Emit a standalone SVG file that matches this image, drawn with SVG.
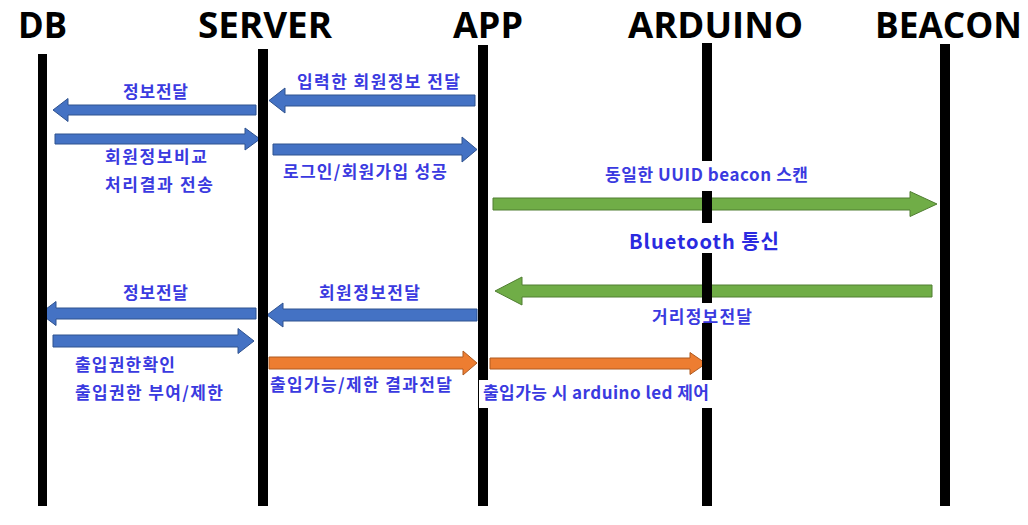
<svg xmlns="http://www.w3.org/2000/svg" width="1028" height="525" viewBox="0 0 1028 525">
<style>
.hdr{font-family:"Open Sans","Noto Sans",sans-serif;font-weight:700;font-size:36px;fill:#000;text-anchor:middle}
.life{fill:#000}
.lbl{font-family:"Noto Sans CJK KR","Noto Sans",sans-serif;font-weight:700;font-size:17px;fill:#3a3ae0}
.mid{text-anchor:middle}
.blue{fill:#4472c4;stroke:#2f528f;stroke-width:1}
.green{fill:#70ad47;stroke:#507e32;stroke-width:1}
.orange{fill:#ed7d31;stroke:#ae5a21;stroke-width:1}
.bg{fill:#fff}
</style>
<rect width="1028" height="525" fill="#fff"/>
<g id="connectors">
<polygon class="blue" points="53,110 68,98.5 68,105 256,105 256,115 68,115 68,121.5"/>
<polygon class="blue" points="260,139 245,128 245,134 55,134 55,144 245,144 245,150"/>
<polygon class="blue" points="269,100.5 285,88 285,95 475,95 475,106 285,106 285,113"/>
<polygon class="blue" points="477,149.5 462,137 462,144 273,144 273,155 462,155 462,162"/>
<polygon class="green" points="937,204 910,191.5 910,198 493,198 493,210 910,210 910,216.5"/>
<polygon class="green" points="495,291 522,277 522,285 932,285 932,297 522,297 522,305"/>
<polygon class="blue" points="40,313.5 56,301.5 56,308 256,308 256,319 56,319 56,325.5"/>
<polygon class="blue" points="254,341 238,328.5 238,335 53,335 53,347 238,347 238,353.5"/>
<polygon class="blue" points="267,315 283,303 283,309 477,309 477,321 283,321 283,327"/>
<polygon class="orange" points="477,363 463,351 463,357 269,357 269,369 463,369 463,375"/>
<polygon class="orange" points="706,363.5 690,352.5 690,358 490,358 490,369 690,369 690,374.5"/>
</g>
<g id="db"><text class="hdr" x="42.5" y="38" textLength="49" lengthAdjust="spacingAndGlyphs">DB</text><rect class="life" x="38" y="54" width="9" height="452"/></g>
<g id="server"><text class="hdr" x="265" y="38" textLength="134" lengthAdjust="spacingAndGlyphs">SERVER</text><rect class="life" x="258" y="49" width="10" height="457"/></g>
<g id="app"><text class="hdr" x="488" y="38" textLength="70" lengthAdjust="spacingAndGlyphs">APP</text><rect class="life" x="478" y="45" width="10" height="461"/></g>
<g id="arduino"><text class="hdr" x="715.5" y="38" textLength="175" lengthAdjust="spacingAndGlyphs">ARDUINO</text><rect class="life" x="702" y="43" width="10" height="463"/></g>
<g id="beacon"><text class="hdr" x="948.5" y="38" textLength="147" lengthAdjust="spacingAndGlyphs">BEACON</text><rect class="life" x="940" y="44" width="10" height="462"/></g>
<g id="labels">
<text class="lbl mid" x="155.5" y="98" textLength="65">정보전달</text>
<text class="lbl" x="105" y="163" textLength="102">회원정보비교</text>
<text class="lbl" x="105" y="191" textLength="108">처리결과 전송</text>
<text class="lbl mid" x="378.5" y="88" textLength="163">입력한 회원정보 전달</text>
<text class="lbl mid" x="365" y="178" textLength="164">로그인/회원가입 성공</text>
<rect class="bg" x="600" y="161" width="212" height="30"/>
<text class="lbl mid" x="706.5" y="181" textLength="203">동일한 UUID beacon 스캔</text>
<rect class="bg" x="625" y="223" width="160" height="30"/>
<text class="lbl mid" x="704" y="249" textLength="150" style="font-size:20px;fill:#2a2ae0">Bluetooth 통신</text>
<rect class="bg" x="648" y="303" width="108" height="20"/>
<text class="lbl mid" x="702" y="323" textLength="100">거리정보전달</text>
<text class="lbl mid" x="155.5" y="299" textLength="65">정보전달</text>
<text class="lbl mid" x="369.5" y="299" textLength="101">회원정보전달</text>
<text class="lbl" x="75" y="371" textLength="100">출입권한확인</text>
<text class="lbl" x="75" y="399" textLength="148">출입권한 부여/제한</text>
<text class="lbl" x="270" y="391" textLength="182">출입가능/제한 결과전달</text>
<rect class="bg" x="479" y="380" width="233" height="28"/>
<text class="lbl" x="483" y="399" textLength="226">출입가능 시 arduino led 제어</text>
</g>
</svg>
